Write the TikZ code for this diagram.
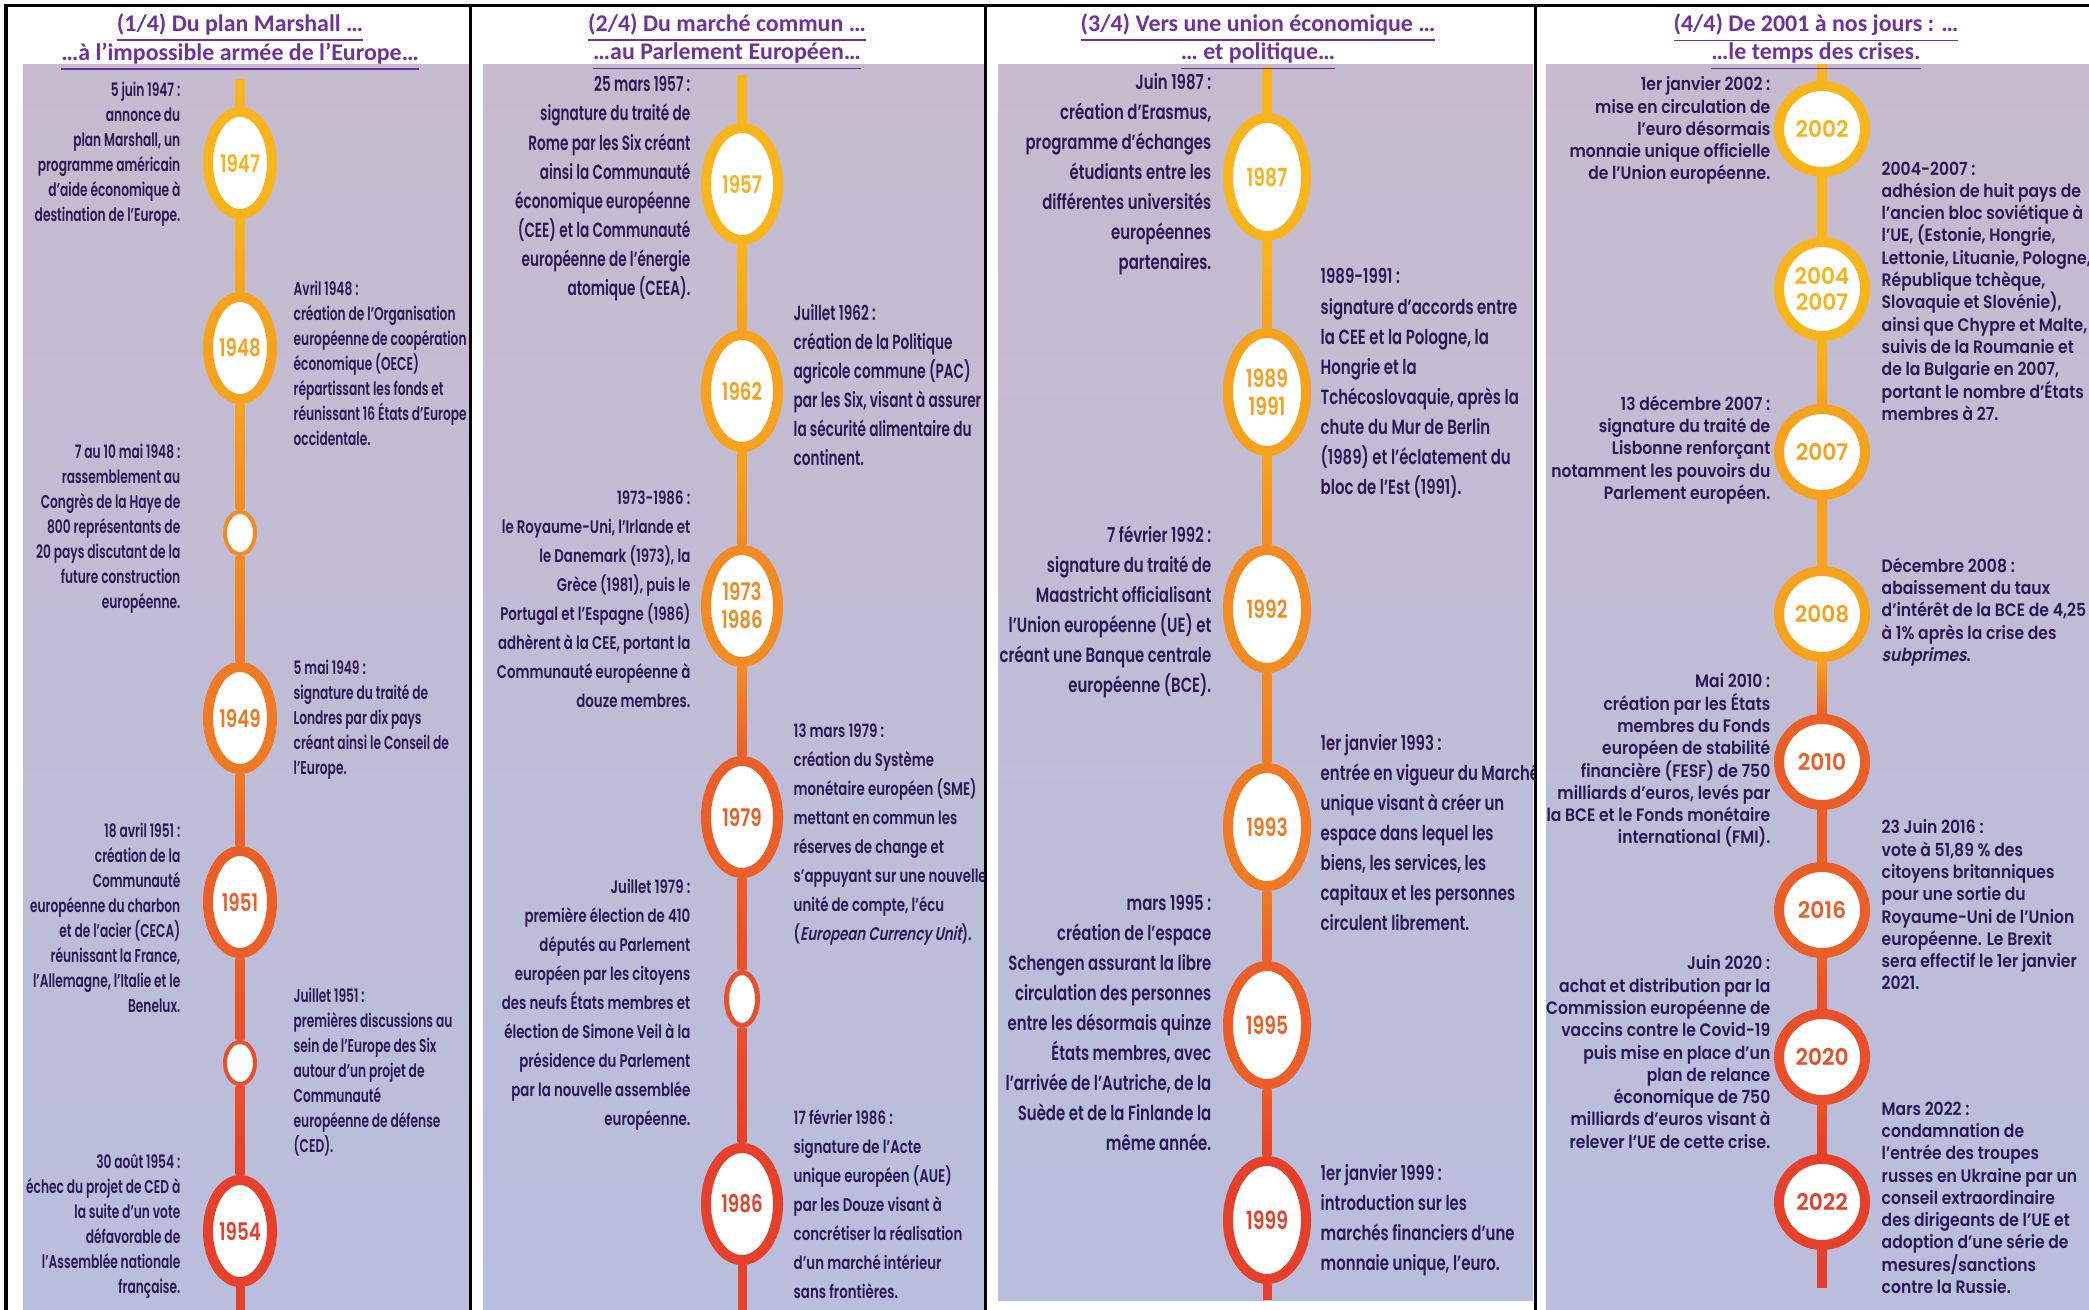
\documentclass[tikz,border=0pt]{standalone}
\usepackage{fontspec}
\usetikzlibrary{shapes.geometric,calc}

\IfFontExistsTF{Poppins SemiBold}{\def\PopSemi{Poppins SemiBold}}{\def\PopSemi{Poppins}}
\newfontfamily\TxtNarrow[FakeStretch=0.66]{\PopSemi}
\newfontfamily\TxtMid[FakeStretch=0.665]{\PopSemi}
\newfontfamily\TxtMidB[FakeStretch=0.728]{\PopSemi}
\newfontfamily\TxtWide[FakeStretch=0.73, ItalicFont=\PopSemi, ItalicFeatures={FakeSlant=0.2}]{\PopSemi}
\newfontfamily\TxtLast[FakeStretch=0.865, ItalicFont=\PopSemi, ItalicFeatures={FakeSlant=0.2}]{\PopSemi}
\newfontfamily\YearNarrow[FakeStretch=0.75]{\PopSemi}
\newfontfamily\YearWide[FakeStretch=0.95]{\PopSemi}
\newfontfamily\TitleFont{Carlito}

\definecolor{Ink}{RGB}{42,24,86}
\definecolor{TitlePurple}{RGB}{112,48,160}
\definecolor{PanelTop}{RGB}{198,187,206}
\definecolor{PanelBot}{RGB}{185,190,221}
\definecolor{Yel}{RGB}{248,180,27}
\definecolor{Amb}{RGB}{246,162,30}
\definecolor{Ora}{RGB}{242,140,34}
\definecolor{OraB}{RGB}{239,122,35}
\definecolor{Ver}{RGB}{236,94,39}
\definecolor{RedA}{RGB}{233,79,41}
\definecolor{RedB}{RGB}{230,64,42}

\pgfdeclarelayer{panel}
\pgfdeclarelayer{line}
\pgfsetlayers{panel,line,main}

\tikzstyle{RingA}=[ellipse, fill=white, line width=0.1cm, inner sep=0pt, align=center, minimum width=0.64cm, minimum height=1.02cm, font=\YearNarrow\fontsize{6.9}{8}\selectfont]
\tikzstyle{DotA}=[ellipse, fill=white, line width=0.04cm, inner sep=0pt, minimum width=0.30cm, minimum height=0.42cm]
\tikzstyle{RingB}=[RingA, minimum width=0.72cm, minimum height=1.12cm]
\tikzstyle{DotB}=[DotA, line width=0.05cm, minimum width=0.31cm, minimum height=0.53cm]
\tikzstyle{RingC}=[RingA, minimum width=0.78cm, minimum height=1.18cm, font=\YearNarrow\fontsize{7.1}{8}\selectfont]
\tikzstyle{RingD}=[RingA, minimum width=0.86cm, minimum height=0.86cm, font=\YearWide\fontsize{6.5}{7.2}\selectfont]
\tikzstyle{EvLeft}=[anchor=north east, align=right, inner sep=0pt, text=Ink]
\tikzstyle{EvRight}=[anchor=north west, align=left, inner sep=0pt, text=Ink]
\tikzstyle{FontOne}=[font=\TxtNarrow\fontsize{5.26}{7.11}\selectfont]
\tikzstyle{FontTwo}=[font=\TxtMid\fontsize{5.83}{8.25}\selectfont]
\tikzstyle{FontTwoB}=[font=\TxtWide\fontsize{5.2}{8.25}\selectfont]
\tikzstyle{FontThree}=[font=\TxtMidB\fontsize{5.83}{8.54}\selectfont]
\tikzstyle{FontFour}=[font=\TxtLast\fontsize{5.12}{6.34}\selectfont]
\tikzstyle{Title}=[text=TitlePurple, inner sep=0pt, font=\TitleFont\bfseries\fontsize{6.8}{8}\selectfont]

\begin{document}
\begin{tikzpicture}[x=0.01cm, y=-0.01cm]
\useasboundingbox (0,0) rectangle (2089,1310);

%Fondos
\begin{pgfonlayer}{panel}
\shade[top color=PanelTop, bottom color=PanelBot] (23,65) rectangle (470,1310);
\shade[top color=PanelTop, bottom color=PanelBot] (483,65) rectangle (985,1310);
\shade[top color=PanelTop, bottom color=PanelBot] (998,65) rectangle (1533,1300);
\shade[top color=PanelTop, bottom color=PanelBot] (1546,65) rectangle (2089,1310);
\end{pgfonlayer}

%Marco
\draw[line width=0.03cm] (6,1310) -- (6,6) -- (2089,6);
\draw[line width=0.03cm] (470,6) -- (470,1310);
\draw[line width=0.03cm] (985,6) -- (985,1310);
\draw[line width=0.03cm] (1535,6) -- (1535,1310);

%Titulos
\node[Title] (t1a) at (240,28) {\underline{(1/4) Du plan Marshall …}};
\node[Title] (t1b) at (240,57) {\underline{…à l’impossible armée de l’Europe…}};
\node[Title] (t2a) at (727,28) {\underline{(2/4) Du marché commun …}};
\node[Title] (t2b) at (727,57) {\underline{…au Parlement Européen…}};
\node[Title] (t3a) at (1258,28) {\underline{(3/4) Vers une union économique …}};
\node[Title] (t3b) at (1258,57) {\underline{… et politique…}};
\node[Title] (t4a) at (1816,28) {\underline{(4/4) De 2001 à nos jours : …}};
\node[Title] (t4b) at (1816,57) {\underline{…le temps des crises.}};

%Columna 1
\node[RingA, draw=Yel, text=Yel]   (y1947) at (240,163) {1947};
\node[RingA, draw=Amb, text=Amb]   (y1948) at (240,348) {1948};
\node[DotA, draw=Ora]              (m1948) at (240,533) {};
\node[RingA, draw=OraB, text=OraB] (y1949) at (240,718) {1949};
\node[RingA, draw=Ver, text=Ver]   (y1951) at (240,902) {1951};
\node[DotA, draw=RedA]             (m1951) at (240,1063) {};
\node[RingA, draw=RedB, text=RedB] (y1954) at (240,1231) {1954};
\coordinate (top1) at (240,80);
\coordinate (bot1) at (240,1310);

%Columna 2
\node[RingB, draw=Yel, text=Yel]   (y1957) at (742,184) {1957};
\node[RingB, draw=Amb, text=Amb]   (y1962) at (742,391) {1962};
\node[RingB, draw=Ora, text=Ora]   (y1973) at (742,606) {1973\\1986};
\node[RingB, draw=Ver, text=Ver]   (y1979) at (742,817) {1979};
\node[DotB, draw=RedA]             (m1979) at (742,999) {};
\node[RingB, draw=RedB, text=RedB] (y1986) at (742,1204) {1986};
\coordinate (top2) at (742,76);
\coordinate (bot2) at (742,1310);

%Columna 3
\node[RingC, draw=Yel, text=Yel]   (y1987) at (1267,177) {1987};
\node[RingC, draw=Amb, text=Amb]   (y1989) at (1267,392) {1989\\1991};
\node[RingC, draw=Ora, text=Ora]   (y1992) at (1267,609) {1992};
\node[RingC, draw=OraB, text=OraB] (y1993) at (1267,827) {1993};
\node[RingC, draw=Ver, text=Ver]   (y1995) at (1267,1025) {1995};
\node[RingC, draw=RedB, text=RedB] (y1999) at (1267,1220) {1999};
\coordinate (top3) at (1267,68);
\coordinate (bot3) at (1267,1300);

%Columna 4
\node[RingD, draw=Yel, text=Yel]   (y2002) at (1822,129) {2002};
\node[RingD, draw=Yel, text=Yel, minimum height=0.94cm] (y2004) at (1822,289) {2004\\2007};
\node[RingD, draw=Amb, text=Amb]   (y2007) at (1822,452) {2007};
\node[RingD, draw=Amb, text=Amb]   (y2008) at (1822,614) {2008};
\node[RingD, draw=Ver, text=Ver]   (y2010) at (1822,762) {2010};
\node[RingD, draw=Ver, text=Ver]   (y2016) at (1822,910) {2016};
\node[RingD, draw=RedA, text=RedA] (y2020) at (1822,1057) {2020};
\node[RingD, draw=RedB, text=RedB] (y2022) at (1822,1202) {2022};
\coordinate (top4) at (1822,65);
\coordinate (bot4) at (1822,1288);

%Lineas
\begin{pgfonlayer}{line}
\shade[top color=Yel, bottom color=Yel] ($(top1)+(-4.5,0)$) rectangle ($(y1947.north)+(4.5,0)$);
\shade[top color=Yel, bottom color=Yel] ($(top2)+(-4.5,0)$) rectangle ($(y1957.north)+(4.5,0)$);
\shade[top color=Yel, bottom color=Yel] ($(top3)+(-4.5,0)$) rectangle ($(y1987.north)+(4.5,0)$);
\shade[top color=Yel, bottom color=Yel] ($(top4)+(-5,0)$) rectangle ($(y2002.north)+(5,0)$);
\foreach \a/\b/\ca/\cb in {y1947/y1948/Yel/Amb, y1948/m1948/Amb/Ora, m1948/y1949/Ora/OraB, y1949/y1951/OraB/Ver, y1951/m1951/Ver/RedA, m1951/y1954/RedA/RedB,
  y1957/y1962/Yel/Amb, y1962/y1973/Amb/Ora, y1973/y1979/Ora/Ver, y1979/m1979/Ver/RedA, m1979/y1986/RedA/RedB,
  y1987/y1989/Yel/Amb, y1989/y1992/Amb/Ora, y1992/y1993/Ora/OraB, y1993/y1995/OraB/Ver, y1995/y1999/Ver/RedB}
  \shade[top color=\ca, bottom color=\cb] ($(\a.south)+(-4.5,0)$) rectangle ($(\b.north)+(4.5,0)$);
\foreach \a/\b/\ca/\cb in {y2002/y2004/Yel/Yel, y2004/y2007/Yel/Amb, y2007/y2008/Amb/Amb, y2008/y2010/Amb/Ver, y2010/y2016/Ver/Ver, y2016/y2020/Ver/RedA, y2020/y2022/RedA/RedB}
  \shade[top color=\ca, bottom color=\cb] ($(\a.south)+(-5,0)$) rectangle ($(\b.north)+(5,0)$);
\fill[RedB] ($(y1954.south)+(-4.5,0)$) rectangle ($(bot1)+(4.5,0)$);
\fill[RedB] ($(y1986.south)+(-4.5,0)$) rectangle ($(bot2)+(4.5,0)$);
\fill[RedB] ($(y1999.south)+(-4.5,0)$) rectangle ($(bot3)+(4.5,0)$);
\fill[RedB] ($(y2022.south)+(-5,0)$) rectangle ($(bot4)+(5,0)$);
\end{pgfonlayer}

%Textos columna 1
\begin{scope}
\clip (23,65) rectangle (469,1310);
\node[EvLeft, FontOne] (e1947) at (181,81) {5 juin 1947 :\\annonce du\\plan Marshall, un\\programme américain\\d’aide économique à\\destination de l’Europe.};
\node[EvRight, FontOne] (e1948) at (293,280) {Avril 1948 :\\création de l’Organisation\\européenne de coopération\\économique (OECE)\\répartissant les fonds et\\réunissant 16 États d’Europe\\occidentale.};
\node[EvLeft, FontOne] (e1948b) at (181,443) {7 au 10 mai 1948 :\\rassemblement au\\Congrès de la Haye de\\800 représentants de\\20 pays discutant de la\\future construction\\européenne.};
\node[EvRight, FontOne] (e1949) at (293,659) {5 mai 1949 :\\signature du traité de\\Londres par dix pays\\créant ainsi le Conseil de\\l’Europe.};
\node[EvLeft, FontOne] (e1951) at (181,822) {18 avril 1951 :\\création de la\\Communauté\\européenne du charbon\\et de l’acier (CECA)\\réunissant la France,\\l’Allemagne, l’Italie et le\\Benelux.};
\node[EvRight, FontOne] (e1951b) at (293,987) {Juillet 1951 :\\premières discussions au\\sein de l’Europe des Six\\autour d’un projet de\\Communauté\\européenne de défense\\(CED).};
\node[EvLeft, FontOne] (e1954) at (181,1153) {30 août 1954 :\\échec du projet de CED à\\la suite d’un vote\\défavorable de\\l’Assemblée nationale\\française.};
\end{scope}

%Textos columna 2
\begin{scope}
\clip (483,65) rectangle (984,1310);
\node[EvLeft, FontTwo] (e1957) at (691,76) {25 mars 1957 :\\signature du traité de\\Rome par les Six créant\\ainsi la Communauté\\économique européenne\\(CEE) et la Communauté\\européenne de l’énergie\\atomique (CEEA).};
\node[EvRight, FontTwo] (e1962) at (793,304) {Juillet 1962 :\\création de la Politique\\agricole commune (PAC)\\par les Six, visant à assurer\\la sécurité alimentaire du\\continent.};
\node[EvLeft, FontTwoB] (e1973) at (691,490) {1973-1986 :\\le Royaume-Uni, l’Irlande et\\le Danemark (1973), la\\Grèce (1981), puis le\\Portugal et l’Espagne (1986)\\adhèrent à la CEE, portant la\\Communauté européenne à\\douze membres.};
\node[EvRight, FontTwoB] (e1979) at (793,723) {13 mars 1979 :\\création du Système\\monétaire européen (SME)\\mettant en commun les\\réserves de change et\\s’appuyant sur une nouvelle\\unité de compte, l’écu\\(\textit{European Currency Unit}).};
\node[EvLeft, FontTwoB] (e1979b) at (691,878) {Juillet 1979 :\\première élection de 410\\députés au Parlement\\européen par les citoyens\\des neufs États membres et\\élection de Simone Veil à la\\présidence du Parlement\\par la nouvelle assemblée\\européenne.};
\node[EvRight, FontTwoB] (e1986) at (793,1109) {17 février 1986 :\\signature de l’Acte\\unique européen (AUE)\\par les Douze visant à\\concrétiser la réalisation\\d’un marché intérieur\\sans frontières.};
\end{scope}

%Textos columna 3
\begin{scope}
\clip (998,65) rectangle (1533,1300);
\node[EvLeft, FontThree] (e1987) at (1212,73) {Juin 1987 :\\création d’Erasmus,\\programme d’échanges\\étudiants entre les\\différentes universités\\européennes\\partenaires.};
\node[EvRight, FontThree] (e1989) at (1320,268) {1989-1991 :\\signature d’accords entre\\la CEE et la Pologne, la\\Hongrie et la\\Tchécoslovaquie, après la\\chute du Mur de Berlin\\(1989) et l’éclatement du\\bloc de l’Est (1991).};
\node[EvLeft, FontThree] (e1992) at (1212,525) {7 février 1992 :\\signature du traité de\\Maastricht officialisant\\l’Union européenne (UE) et\\créant une Banque centrale\\européenne (BCE).};
\node[EvRight, FontThree] (e1993) at (1320,734) {1er janvier 1993 :\\entrée en vigueur du Marché\\unique visant à créer un\\espace dans lequel les\\biens, les services, les\\capitaux et les personnes\\circulent librement.};
\node[EvLeft, FontThree] (e1995) at (1212,894) {mars 1995 :\\création de l’espace\\Schengen assurant la libre\\circulation des personnes\\entre les désormais quinze\\États membres, avec\\l’arrivée de l’Autriche, de la\\Suède et de la Finlande la\\même année.};
\node[EvRight, FontThree] (e1999) at (1320,1164) {1er janvier 1999 :\\introduction sur les\\marchés financiers d’une\\monnaie unique, l’euro.};
\end{scope}

%Textos columna 4
\begin{scope}
\clip (1546,65) rectangle (2089,1310);
\node[EvLeft, FontFour] (e2002) at (1771,76) {1er janvier 2002 :\\mise en circulation de\\l’euro désormais\\monnaie unique officielle\\de l’Union européenne.};
\node[EvRight, FontFour] (e2004) at (1881,161) {2004-2007 :\\adhésion de huit pays de\\l’ancien bloc soviétique à\\l’UE, (Estonie, Hongrie,\\Lettonie, Lituanie, Pologne,\\République tchèque,\\Slovaquie et Slovénie),\\ainsi que Chypre et Malte,\\suivis de la Roumanie et\\de la Bulgarie en 2007,\\portant le nombre d’États\\membres à 27.};
\node[EvLeft, FontFour] (e2007) at (1771,395) {13 décembre 2007 :\\signature du traité de\\Lisbonne renforçant\\notamment les pouvoirs du\\Parlement européen.};
\node[EvRight, FontFour] (e2008) at (1881,557) {Décembre 2008 :\\abaissement du taux\\d’intérêt de la BCE de 4,25 \%\\à 1\% après la crise des\\\textit{subprimes}.};
\node[EvLeft, FontFour] (e2010) at (1771,673) {Mai 2010 :\\création par les États\\membres du Fonds\\européen de stabilité\\financière (FESF) de 750\\milliards d’euros, levés par\\la BCE et le Fonds monétaire\\international (FMI).};
\node[EvRight, FontFour] (e2016) at (1881,819) {23 Juin 2016 :\\vote à 51,89 \% des\\citoyens britanniques\\pour une sortie du\\Royaume-Uni de l’Union\\européenne. Le Brexit\\sera effectif le 1er janvier\\2021.};
\node[EvLeft, FontFour] (e2020) at (1771,955) {Juin 2020 :\\achat et distribution par la\\Commission européenne de\\vaccins contre le Covid-19\\puis mise en place d’un\\plan de relance\\économique de 750\\milliards d’euros visant à\\relever l’UE de cette crise.};
\node[EvRight, FontFour] (e2022) at (1881,1101) {Mars 2022 :\\condamnation de\\l’entrée des troupes\\russes en Ukraine par un\\conseil extraordinaire\\des dirigeants de l’UE et\\adoption d’une série de\\mesures/sanctions\\contre la Russie.};
\end{scope}

\end{tikzpicture}
\end{document}
